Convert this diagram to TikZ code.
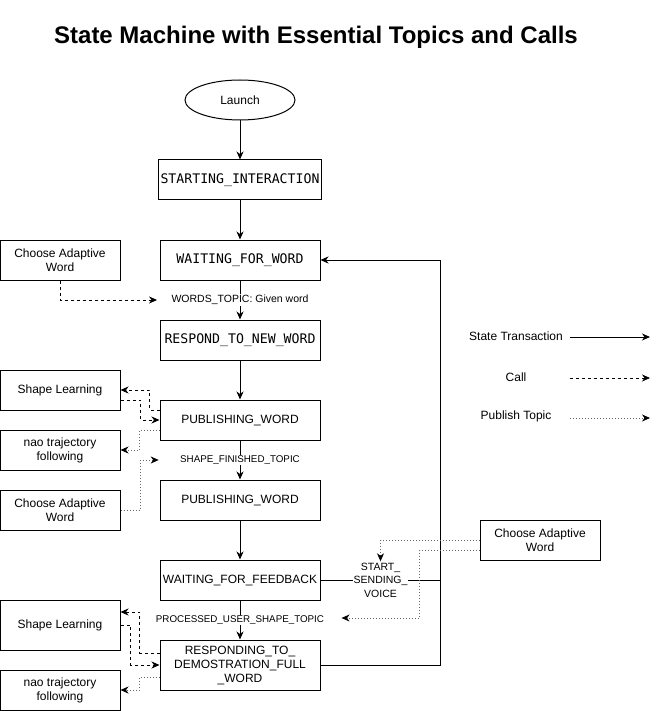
\documentclass[tikz,border=0pt]{standalone}
\usepackage{fontspec}
\setmainfont{Liberation Sans}
\newfontfamily\monofont{DejaVu Sans Mono}
\usetikzlibrary{arrows.meta, calc, shapes.geometric}

\begin{document}
\begin{tikzpicture}[x=1pt, y=-1pt,
  statebox/.style={draw, line width=1pt, minimum width=160, minimum height=40, inner sep=2pt, align=center, font=\fontsize{12}{14}\selectfont},
  codebox/.style={statebox, font=\monofont\fontsize{13.2}{14}\selectfont},
  sidebox/.style={draw, line width=1pt, minimum width=120, minimum height=40, inner sep=2pt, align=center, font=\fontsize{12}{14}\selectfont},
  lbl/.style={fill=white, inner sep=1pt, align=center, font=\fontsize{10.5}{13.5}\selectfont},
  capslbl/.style={lbl, font=\fontsize{9.8}{12}\selectfont},
  tip/.style={-{Stealth[length=8pt, width=7pt, inset=2.5pt, color=black]}},
  trans/.style={tip, line width=1pt},
  call/.style={tip, line width=0.8pt, dash pattern=on 3pt off 3pt},
  pub/.style={tip, line width=0.8pt, dash pattern=on 1pt off 2pt, draw=black!60}
]
\useasboundingbox (0,0) rectangle (661,711);
\node[font=\bfseries\fontsize{24}{28}\selectfont] (title) at (316,37) {State Machine with Essential Topics and Calls};
\node[draw, ellipse, line width=1pt, minimum width=110, minimum height=40, font=\fontsize{12}{14}\selectfont] (launch) at (240,100) {Launch};
\node[codebox] (start) at (240,180) {STARTING\_INTERACTION};
\node[codebox] (waitw) at (240,260) {WAITING\_FOR\_WORD};
\node[codebox] (respond) at (240,340) {RESPOND\_TO\_NEW\_WORD};
\node[statebox] (pub1) at (240,420) {PUBLISHING\_WORD};
\node[statebox] (pub2) at (240,500) {PUBLISHING\_WORD};
\node[statebox] (waitf) at (240,580) {WAITING\_FOR\_FEEDBACK};
\node[statebox, minimum height=50] (resp) at (240,665) {RESPONDING\_TO\_\\DEMOSTRATION\_FULL\\\_WORD};
\node[sidebox] (caw1) at (60,260) {Choose Adaptive\\Word};
\node[sidebox] (sl1) at (60,390) {Shape Learning};
\node[sidebox] (nao1) at (60,450) {nao trajectory\\following};
\node[sidebox] (caw2) at (60,510) {Choose Adaptive\\Word};
\node[sidebox, minimum height=50] (sl2) at (60,625) {Shape Learning};
\node[sidebox] (nao2) at (60,690) {nao trajectory\\following};
\node[sidebox] (caw3) at (540,540) {Choose Adaptive\\Word};
% legend
\node[font=\fontsize{12}{14}\selectfont] (lgtrans) at (516,336) {State Transaction};
\node[font=\fontsize{12}{14}\selectfont] (lgcall) at (516,377) {Call};
\node[font=\fontsize{12}{14}\selectfont] (lgpub) at (516,416) {Publish Topic};
\coordinate (lgts) at (570,337);
\coordinate (lgte) at (650,337);
\coordinate (lgcs) at (570,378);
\coordinate (lgce) at (650,378);
\coordinate (lgps) at (570,418);
\coordinate (lgpe) at (650,418);
\draw[trans] (lgts) -- (lgte);
\draw[call] (lgcs) -- (lgce);
\draw[pub] (lgps) -- (lgpe);
% state transitions
\draw[trans] (launch) -- (start);
\draw[trans] (start) -- (waitw);
\draw[trans] (waitw) -- node[lbl] (wtopic) {WORDS\_TOPIC: Given word} (respond);
\draw[trans] (respond) -- (pub1);
\draw[trans] (pub1) -- node[capslbl] (stopic) {SHAPE\_FINISHED\_TOPIC} (pub2);
\draw[trans] (pub2) -- (waitf);
\draw[trans] (waitf) -- node[capslbl] (ptopic) {PROCESSED\_USER\_SHAPE\_TOPIC} (resp);
\draw[trans] (resp.east) -- ++(120,0) |- (waitw.east);
\draw[line width=1pt] (waitf.east) -- node[lbl] (svoice) {START\_\\SENDING\_\\VOICE} ++(120,0);
% calls and topics
\draw[call] (caw1.south) |- ($(wtopic.west)+(-13,0)$);
\draw[call] ($(pub1.west)+(0,-10)$) -- ++(-10,0) |- (sl1.east);
\draw[call] ($(sl1.east)+(0,10)$) -- ++(20,0) |- (pub1.west);
\draw[pub] ($(pub1.west)+(0,10)$) -- ++(-20,0) |- (nao1.east);
\draw[pub] (caw2.east) -- ++(20,0) |- ($(stopic.west)+(-20,0)$);
\draw[call] ($(resp.west)+(0,-12)$) -- ++(-20,0) |- ($(sl2.east)+(0,-13)$);
\draw[call] (sl2.east) -- ++(10,0) |- (resp.west);
\draw[pub] ($(resp.west)+(0,12)$) -- ++(-20,0) |- (nao2.east);
\draw[pub] (caw3.west) -| (svoice.north);
\draw[pub] ($(caw3.west)+(0,10)$) -- ++(-60,0) |- ($(ptopic.east)+(16,-2)$);
\end{tikzpicture}
\end{document}
